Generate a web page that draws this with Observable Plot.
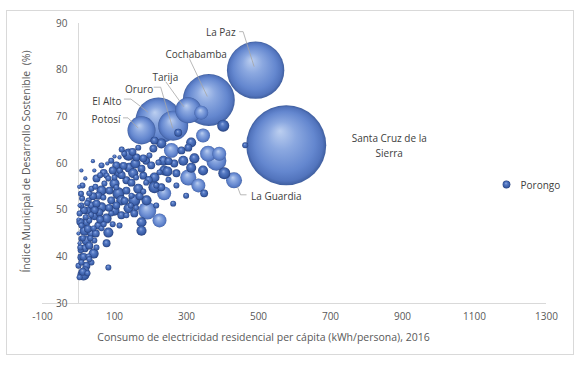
<!DOCTYPE html>
<html><head><meta charset="utf-8">
<script src="https://cdn.jsdelivr.net/npm/d3@7"></script>
<script src="https://cdn.jsdelivr.net/npm/@observablehq/plot@0.6"></script>
<style>
body{margin:0;background:#fff;}
#wrap{position:relative;width:583px;height:365px;}
#border{position:absolute;left:6px;top:10px;width:568px;height:345px;border:1px solid #d9d9d9;pointer-events:none;box-sizing:border-box;}
</style></head><body>
<div id="wrap"><div id="border"></div></div>
<script>
// Municipios (labeled first, then unlabeled)
const nombre = ["La Paz","Cochabamba","Santa Cruz de la\nSierra","El Alto","Tarija","Oruro","Potosí","La Guardia","Porongo"];
// Consumo de electricidad residencial per cápita (kWh/persona), 2016
const consumo = [492,362,577,222,305,263,175,432,1189,
 277,341,402,346,313,258,230,208,286,305,360,391,383,322,291,266,313,346,405,463,161,188,236,238,127,141,105,44,
 139,8,114,111,158,180,202,222,247,272,305,333,349,152,180,211,133,100,72,64,30,111,166,211,238,119,155,189,139,100,64,36,8,3,44,78,191,225,175,175,263,83,78,22,17,36,22,44,17,42,8,22,14,83,0,3,0,3,36,28,69,
 11,19,50,78,55,86,91,50,25,58,91,119,30,55,8,42,64,8,30,50,6,28,8,36,19,3,105,133,147,188,147,133,155,114,216,230,272,299,91,64,166,197,211,114,83,175,225,216,
 5,12,20,26,33,10,15,24,40,47,60,70,95,100,120,125,60,70,48,14,5,30,12,25,45,85,95,105,128,145,160,170,180,195,250,250,150,120,100,80,40,2,0,7,35,160];
// Índice Municipal de Desarrollo Sostenible (%)
const indice = [80.0,73.6,63.9,69.2,71.4,68.1,67.1,56.4,55.5,
 66.6,70.9,68.1,66.0,64.5,62.8,64.3,63.2,62.8,63.4,62.1,62.1,60.6,61.1,60.6,60.0,59.1,58.5,57.9,63.9,61.3,60.6,60.6,58.5,62.1,59.1,59.6,58.5,
 61.9,58.5,61.3,58.1,60.0,61.1,59.6,60.2,58.3,57.9,57.0,55.3,53.6,57.9,57.4,57.0,56.4,55.7,55.7,54.2,53.6,53.6,54.6,54.9,53.6,52.1,52.1,52.1,50.4,49.9,50.6,51.0,51.0,49.3,48.9,48.2,49.9,47.8,47.4,45.6,51.4,45.2,42.9,47.4,45.6,45.0,43.5,43.5,41.8,40.7,39.9,38.1,36.2,37.7,45.0,42.9,38.1,51.0,54.6,52.1,52.7,
 55.3,56.8,56.8,57.4,53.1,54.2,52.1,51.4,49.9,49.5,49.3,48.9,47.8,46.7,46.7,46.1,46.1,43.9,42.4,42.0,41.4,40.1,38.8,38.8,37.1,35.6,54.9,54.2,55.9,55.9,53.1,48.9,49.3,46.7,51.0,54.9,55.3,53.1,60.6,59.6,63.4,61.7,64.9,58.5,56.8,58.9,58.1,55.3,
 47.5,44.0,48.5,46.0,44.0,52.5,50.0,51.5,53.0,55.0,57.5,58.0,58.5,57.0,57.5,59.5,48.0,47.0,45.0,40.0,42.0,39.5,36.8,36.5,50.0,50.5,47.0,51.0,52.0,51.0,50.5,53.0,54.0,56.5,56.5,60.5,62.5,63.0,61.5,60.0,60.5,55.0,48.0,53.5,49.0,57.0];
// Tamaño de burbuja (población, miles, aprox.)
const tamano = [746,612,1450,479,153,204,178,58,14,
 14,44,33,44,23,50,23,14,14,14,58,44,90,23,23,14,23,23,33,8,14,14,23,23,8,23,14,4,
 33,4,4,23,23,14,14,8,23,14,58,44,14,23,14,23,14,23,8,23,8,33,23,33,44,23,33,23,23,23,23,14,8,8,23,23,73,44,23,23,8,23,14,14,23,14,23,8,14,23,14,14,33,8,4,4,8,4,8,8,8,
 8,4,14,8,14,14,14,14,14,14,8,14,8,14,8,8,8,8,14,8,8,8,8,8,14,8,8,14,14,8,8,8,14,8,8,14,8,8,8,8,8,8,14,8,8,14,8,8,
 14,8,8,14,8,8,14,8,14,8,8,14,14,8,14,14,14,8,14,14,8,8,14,8,14,14,8,14,14,8,8,14,8,14,8,14,14,8,4,4,4,4,4,8,8,8];
const xTicks = [-100,100,300,500,700,900,1100,1300];
const yTicks = [30,40,50,60,70,80,90];
const xTitle = "Consumo de electricidad residencial per cápita (kWh/persona), 2016";
const yTitle = "Índice Municipal de Desarrollo Sostenible \u00a0(%)";

// label styling: pixel offsets from bubble centre, and leader polylines (pixel offsets)
const labelStyle = {
  "La Paz": {dx:-20, dy:-39, anchor:"end", leader:[[-16,-38],[-12,-38],[-1,-3]]},
  "Cochabamba": {dx:18, dy:-47, anchor:"end", leader:[[-19,-41],[-1,-3]]},
  "Santa Cruz de la\nSierra": {dx:103, dy:-1, anchor:"middle", leader:null},
  "El Alto": {dx:-37, dy:-21, anchor:"end", leader:[[-34,-21],[-27,-21],[-10,-8]]},
  "Tarija": {dx:-23, dy:-34, anchor:"middle", leader:[[-22,-28],[-4,-3]]},
  "Oruro": {dx:-20, dy:-38, anchor:"end", leader:[[-19,-38],[-12,-38],[0,3]]},
  "Potosí": {dx:-21, dy:-12, anchor:"end", leader:[[-18,-12],[-13,-12],[-3,-2]]},
  "La Guardia": {dx:17, dy:15, anchor:"start", leader:[[4,7],[7,15],[13,15]]},
  "Porongo": {dx:14, dy:0, anchor:"start", leader:null}
};

const data = consumo.map((x,i)=>({x, y:indice[i], s:tamano[i], name:nombre[i]||""}));
const sorted = data.slice().sort((a,b)=>b.s-a.s);
const big = sorted.filter(d=>d.s>=40);
const small = sorted.filter(d=>d.s<40);
const labeled = data.filter(d=>d.name);

const plot = Plot.plot({
  width:583, height:365,
  marginLeft:42, marginRight:37, marginTop:23, marginBottom:62,
  x:{domain:[-100,1300]},
  y:{domain:[30,90], axis:null},
  r:{type:"sqrt", domain:[0,1450], range:[0,40]},
  style:{fontFamily:"'Open Sans', sans-serif", fontSize:"10px", color:"#595959", background:"transparent", overflow:"visible"},
  marks:[
    Plot.ruleY([30], {stroke:"#d9d9d9", strokeWidth:1}),
    Plot.ruleX([0], {stroke:"#d9d9d9", strokeWidth:1}),
    Plot.axisX({ticks:xTicks, tickSize:0, tickPadding:9, label:null, tickFormat:d=>String(d), fill:"#595959", fontSize:10}),
    Plot.text(yTicks, {x:0, y:d=>d, dx:-11, textAnchor:"end", fill:"#595959", fontSize:10}),
    Plot.dot(big, {x:"x", y:"y", r:"s", fill:"url(#bubL)"}),
    Plot.dot(small, {x:"x", y:"y", r:"s", fill:"url(#bubS)"}),
    ...labeled.map(d=>{
      const st = labelStyle[d.name];
      return Plot.text([d], {x:"x", y:"y", text:"name", dx:st.dx, dy:st.dy, textAnchor:st.anchor, fill:"#404040", fontSize:10, lineHeight:1.55});
    }),
    Plot.text([xTitle], {frameAnchor:"bottom", dy:37, dx:-31, fill:"#595959", fontSize:10.5}),
    Plot.text([yTitle], {frameAnchor:"left", textAnchor:"middle", rotate:-90, dx:-16, dy:-2, fill:"#595959", fontSize:10.5})
  ]
});

const svg = d3.select(plot);
const defs = svg.insert("defs", ":first-child");
function grad(id, stops){
  const g = defs.append("radialGradient").attr("id", id)
    .attr("cx","0.5").attr("cy","0.5").attr("r","0.5").attr("fx","0.42").attr("fy","0.32");
  stops.forEach(([o,c])=>g.append("stop").attr("offset",o).attr("stop-color",c));
}
grad("bubL", [[0,"#bccff0"],[0.35,"#8ba8e0"],[0.75,"#6487cf"],[0.92,"#5274bd"],[1,"#3f5e9e"]]);
grad("bubS", [[0,"#94aee3"],[0.35,"#5579c3"],[0.75,"#3b5fa9"],[1,"#27407c"]]);

const xs = plot.scale("x"), ys = plot.scale("y");
const lg = svg.append("g").attr("fill","none").attr("stroke","#a6a6a6").attr("stroke-width",0.8);
labeled.forEach(d=>{
  const st = labelStyle[d.name];
  if(!st.leader) return;
  const cx = xs.apply(d.x), cy = ys.apply(d.y);
  lg.append("path").attr("d", d3.line()(st.leader.map(([a,b])=>[cx+a, cy+b])));
});
svg.selectAll("g[aria-label='text']").raise();

document.getElementById("wrap").prepend(plot);
</script>
</body></html>
